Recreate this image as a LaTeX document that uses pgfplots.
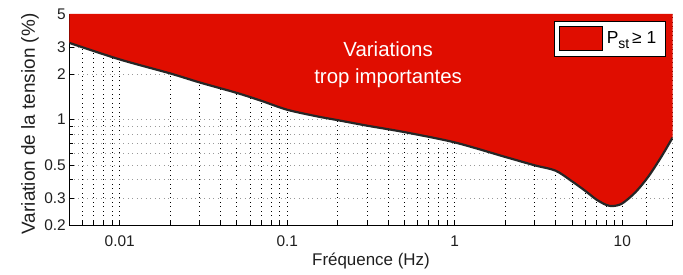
\documentclass[border=0pt]{standalone}
\usepackage{pgfplots}
\pgfplotsset{compat=1.18}
\usepackage{pgfplotstable}
\usepgfplotslibrary{fillbetween}
\usepackage{fontspec}
\setmainfont{Liberation Sans}
\definecolor{zred}{HTML}{E00D00}
\definecolor{txt}{gray}{0.12}
\pgfplotstableread{
f v
0.005 3.22
0.01 2.50
0.02 2.02
0.03 1.76
0.05 1.50
0.07 1.33
0.1 1.16
0.15 1.05
0.2 0.99
0.3 0.91
0.5 0.825
1 0.705
2 0.565
3 0.497
4 0.458
5 0.39
6 0.337
7 0.295
8 0.272
8.8 0.267
10 0.278
12 0.33
14.3 0.418
17 0.56
20 0.76
}\curvetab
\begin{document}
\begin{tikzpicture}
\begin{axis}[
  scale only axis,
  width=603.4bp, height=211bp,
  xmode=log, ymode=log,
  xmin=0.005, xmax=20, ymin=0.2, ymax=5,
  axis x line*=bottom, axis y line*=left,
  axis line style={line width=0.8bp, black},
  tick align=inside,
  tick style={black, line width=0.7bp},
  major tick length=5bp, minor tick length=4bp,
  xtick={0.01,0.1,1,10},
  xticklabels={0.01,0.1,1,10},
  minor xtick={0.006,0.007,0.008,0.009,0.02,0.03,0.04,0.05,0.06,0.07,0.08,0.09,0.2,0.3,0.4,0.5,0.6,0.7,0.8,0.9,2,3,4,5,6,7,8,9,14,20},
  ytick={0.2,0.3,0.5,1,2,3,5},
  yticklabels={0.2,0.3,0.5,1,2,3,5},
  minor ytick={0.4,0.6,0.7,0.8,0.9,4},
  grid=both,
  x grid style={black, line width=0.7bp, dash pattern=on 0.9bp off 3.6bp},
  y grid style={gray!80, line width=0.7bp, dash pattern=on 0.9bp off 3.6bp},
  ticklabel style={font=\fontsize{15.5}{16}\selectfont, text=txt},
  /pgf/number format/assume math mode=true,
  xticklabel style={yshift=-7bp},
  xlabel={Fréquence (Hz)},
  ylabel={Variation de la tension (\%)},
  xlabel style={font=\fontsize{17}{18}\selectfont, text=txt, at={(axis description cs:0.5,0)}, anchor=north, yshift=-25bp},
  ylabel style={font=\fontsize{19}{20}\selectfont, text=txt, at={(axis description cs:-0.0447,0.479)}, anchor=south},
  legend style={at={(rel axis cs:1,1)}, anchor=north east, xshift=-7bp, yshift=-7bp,
    draw=black, line width=0.8bp, fill=white,
    font=\fontsize{17.5}{18}\selectfont, inner xsep=5bp, inner ysep=5bp,
    nodes={inner xsep=4bp, inner ysep=1bp},
    cells={anchor=west}},
]
\coordinate (SW) at (rel axis cs:0,0);
\coordinate (NE) at (rel axis cs:1,1);
\addplot[name path=curve, draw=none, smooth, forget plot] table[x=f,y=v] {\curvetab};
\addplot[name path=top, draw=none, forget plot] coordinates {(0.005,5) (20,5)};
\addplot[fill=zred, draw=none, area legend,
  legend image code/.code={\draw[fill=zred, draw=black, line width=0.7bp] (0bp,-12bp) rectangle (43bp,12bp);}]
  fill between[of=curve and top];
\addlegendentry{P\raisebox{-0.45ex}{\fontsize{14}{14}\selectfont st}\,≥ 1}
\addplot[color=black!85, line width=2.2bp, smooth, forget plot] table[x=f,y=v] {\curvetab};
\node[white, align=center, font=\fontsize{20.5}{27}\selectfont] at (axis cs:0.4,2.3) {Variations\\trop importantes};
\end{axis}
\pgfresetboundingbox
\path ([shift={(-69.3bp,-50bp)}]SW) rectangle ([shift={(10.3bp,14bp)}]NE);
\end{tikzpicture}
\end{document}
